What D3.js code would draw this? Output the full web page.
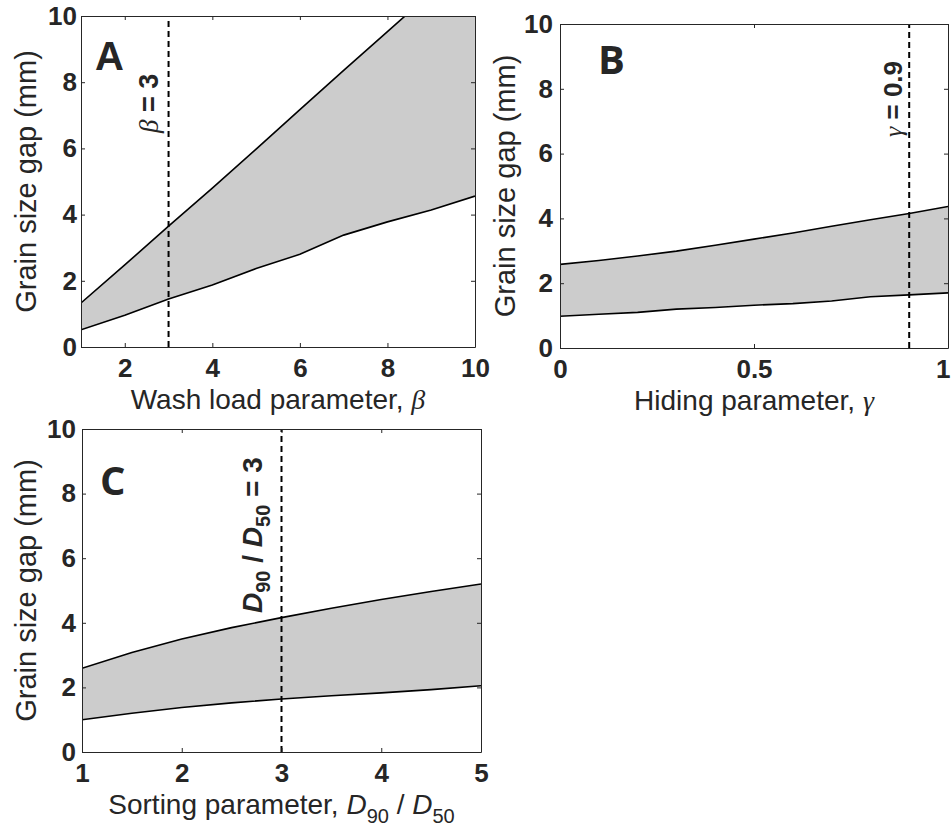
<!DOCTYPE html>
<html>
<head>
<meta charset="utf-8">
<script src="https://cdn.jsdelivr.net/npm/d3@7"></script>
<style>
  body { margin: 0; background: #fff; }
  text { font-family: "Liberation Sans", Arial, Helvetica, sans-serif; fill: #262626; }
</style>
</head>
<body>
<div id="chart"></div>
<script>
// Panel A: wash load parameter
const washLoad = [1, 2, 3, 4, 5, 6, 7, 8, 9, 10];
const washUpper = [1.33, 2.48, 3.65, 4.8, 5.98, 7.17, 8.36, 9.53, 10.7, 11.87];
const washLower = [0.52, 0.96, 1.45, 1.87, 2.37, 2.8, 3.38, 3.78, 4.14, 4.56];
const washTicks = [2, 4, 6, 8, 10];

// Panel B: hiding parameter
const hiding = [0, 0.1, 0.2, 0.3, 0.4, 0.5, 0.6, 0.7, 0.8, 0.9, 1];
const hidingUpper = [2.58, 2.7, 2.84, 2.99, 3.17, 3.36, 3.55, 3.76, 3.96, 4.15, 4.37];
const hidingLower = [0.98, 1.04, 1.1, 1.2, 1.25, 1.32, 1.37, 1.45, 1.58, 1.64, 1.7];
const hidingTicks = [0, 0.5, 1];

// Panel C: sorting parameter
const sorting = [1, 1.5, 2, 2.5, 3, 3.5, 4, 4.5, 5];
const sortingUpper = [2.59, 3.08, 3.5, 3.85, 4.16, 4.45, 4.72, 4.97, 5.2];
const sortingLower = [1.0, 1.2, 1.38, 1.52, 1.64, 1.74, 1.83, 1.93, 2.05];
const sortingTicks = [1, 2, 3, 4, 5];

const gapTicks = [0, 2, 4, 6, 8, 10];

const W = 951, H = 836;
const svg = d3.select('#chart').append('svg')
  .attr('width', W)
  .attr('height', H);

const fmt = d3.format('~g');

function drawPanel(p) {
  const g = svg.append('g');
  const x = d3.scaleLinear().domain(p.xDomain).range([p.left, p.right]);
  const y = d3.scaleLinear().domain([0, 10]).range([p.bottom, p.top]);

  g.append('clipPath').attr('id', 'clip' + p.id)
    .append('rect')
    .attr('x', p.left).attr('y', p.top)
    .attr('width', p.right - p.left).attr('height', p.bottom - p.top);

  const rows = p.xs.map((v, i) => ({ x: v, lo: p.lower[i], hi: p.upper[i] }));

  const area = d3.area()
    .x(d => x(d.x))
    .y0(d => y(d.lo))
    .y1(d => y(d.hi));

  const plot = g.append('g').attr('clip-path', `url(#clip${p.id})`);
  plot.append('path').datum(rows)
    .attr('d', area)
    .attr('fill', '#cccccc');

  ['lo', 'hi'].forEach(k => {
    plot.append('path').datum(rows)
      .attr('d', d3.line().x(d => x(d.x)).y(d => y(d[k])))
      .attr('fill', 'none')
      .attr('stroke', '#000')
      .attr('stroke-width', 1.6);
  });

  // reference value
  plot.append('line')
    .attr('x1', x(p.ref)).attr('x2', x(p.ref))
    .attr('y1', y(0)).attr('y2', y(10))
    .attr('stroke', '#000')
    .attr('stroke-width', 2)
    .attr('stroke-dasharray', '6,4');

  // axes, box with inward ticks
  const styleAxis = sel => {
    sel.selectAll('path.domain').attr('stroke', '#262626').attr('stroke-width', 1);
    sel.selectAll('.tick line').attr('stroke', '#262626').attr('stroke-width', 1);
    sel.selectAll('.tick text')
      .style('font-size', '26px')
      .style('font-weight', 'bold')
      .attr('fill', '#262626');
  };

  const xAxis = g.append('g').attr('transform', `translate(0,${p.bottom})`)
    .call(d3.axisBottom(x).tickValues(p.xTicks).tickFormat(fmt).tickSize(-4).tickSizeOuter(0).tickPadding(12))
    .call(styleAxis);
  // keep the last tick label inside the page
  xAxis.selectAll('.tick text').each(function () {
    const b = this.getBoundingClientRect();
    if (b.right > W) d3.select(this).attr('dx', W - b.right - 0.5);
  });

  g.append('g').attr('transform', `translate(0,${p.top})`)
    .call(d3.axisTop(x).tickValues(p.xTicks).tickSize(-4).tickSizeOuter(0).tickFormat(''))
    .call(styleAxis);
  g.append('g').attr('transform', `translate(${p.left},0)`)
    .call(d3.axisLeft(y).tickValues(gapTicks).tickFormat(fmt).tickSize(-4).tickSizeOuter(0).tickPadding(p.yPad))
    .call(styleAxis);
  g.append('g').attr('transform', `translate(${p.right},0)`)
    .call(d3.axisRight(y).tickValues(gapTicks).tickSize(-4).tickSizeOuter(0).tickFormat(''))
    .call(styleAxis);

  // y label
  g.append('text')
    .attr('transform', `translate(${p.yLabelX},${(p.top + p.bottom) / 2}) rotate(-90)`)
    .attr('text-anchor', 'middle')
    .style('font-size', '29px')
    .text('Grain size gap (mm)');

  // x label
  const xl = g.append('text')
    .attr('x', (p.left + p.right) / 2)
    .attr('y', p.xLabelY)
    .attr('text-anchor', 'middle')
    .style('font-size', '28px');
  p.xLabel(xl);

  // panel letter
  g.append('text')
    .attr('x', p.letterX).attr('y', p.letterY)
    .style('font-family', p.letterFont)
    .style('font-weight', 'bold')
    .style('font-size', '40px')
    .attr('fill', '#000')
    .text(p.id);

  // reference label, rotated
  const rl = g.append('text')
    .attr('transform', `translate(${p.refLabelX},${p.refLabelY}) rotate(-90)`)
    .style('font-size', p.refSize)
    .attr('fill', '#000');
  p.refLabel(rl);
}

const greek = (t, s) => t.append('tspan')
  .style('font-family', '"Liberation Serif", "Times New Roman", serif')
  .style('font-style', 'italic')
  .style('font-weight', 'normal')
  .text(s);

drawPanel({
  id: 'A', xs: washLoad, upper: washUpper, lower: washLower,
  xDomain: [1, 10], xTicks: washTicks, ref: 3,
  left: 81, top: 16, right: 475, bottom: 347, yPad: 4,
  yLabelX: 36, xLabelY: 409,
  letterX: 95, letterY: 70, letterFont: '"Liberation Sans", Arial, sans-serif',
  refLabelX: 158, refLabelY: 133, refSize: '27px',
  xLabel: t => { t.append('tspan').text('Wash load parameter, '); greek(t, 'β'); },
  refLabel: t => { greek(t, 'β'); t.append('tspan').style('font-weight', 'bold').text(' = 3'); }
});

drawPanel({
  id: 'B', xs: hiding, upper: hidingUpper, lower: hidingLower,
  xDomain: [0, 1], xTicks: hidingTicks, ref: 0.9,
  left: 560, top: 24, right: 948, bottom: 348, yPad: 7,
  yLabelX: 515, xLabelY: 410,
  letterX: 598, letterY: 74, letterFont: '"Open Sans", sans-serif',
  refLabelX: 902, refLabelY: 137, refSize: '26px',
  xLabel: t => { t.append('tspan').text('Hiding parameter, '); greek(t, 'γ'); },
  refLabel: t => { greek(t, 'γ'); t.append('tspan').style('font-weight', 'bold').text(' = 0.9'); }
});

drawPanel({
  id: 'C', xs: sorting, upper: sortingUpper, lower: sortingLower,
  xDomain: [1, 5], xTicks: sortingTicks, ref: 3,
  left: 82, top: 429, right: 481, bottom: 752, yPad: 6,
  yLabelX: 36, xLabelY: 814,
  letterX: 100, letterY: 495, letterFont: '"Open Sans", sans-serif',
  refLabelX: 262, refLabelY: 613, refSize: '28px',
  xLabel: t => {
    t.append('tspan').text('Sorting parameter, ');
    t.append('tspan').style('font-style', 'italic').text('D');
    t.append('tspan').attr('dy', 9).style('font-size', '20px').text('90');
    t.append('tspan').attr('dy', -9).text(' / ');
    t.append('tspan').style('font-style', 'italic').text('D');
    t.append('tspan').attr('dy', 9).style('font-size', '20px').text('50');
  },
  refLabel: t => {
    t.style('font-weight', 'bold');
    t.append('tspan').style('font-style', 'italic').text('D');
    t.append('tspan').attr('dy', 8).style('font-size', '20px').text('90');
    t.append('tspan').attr('dy', -8).text(' / ');
    t.append('tspan').style('font-style', 'italic').text('D');
    t.append('tspan').attr('dy', 8).style('font-size', '20px').text('50');
    t.append('tspan').attr('dy', -8).text(' = 3');
  }
});
</script>
</body>
</html>
